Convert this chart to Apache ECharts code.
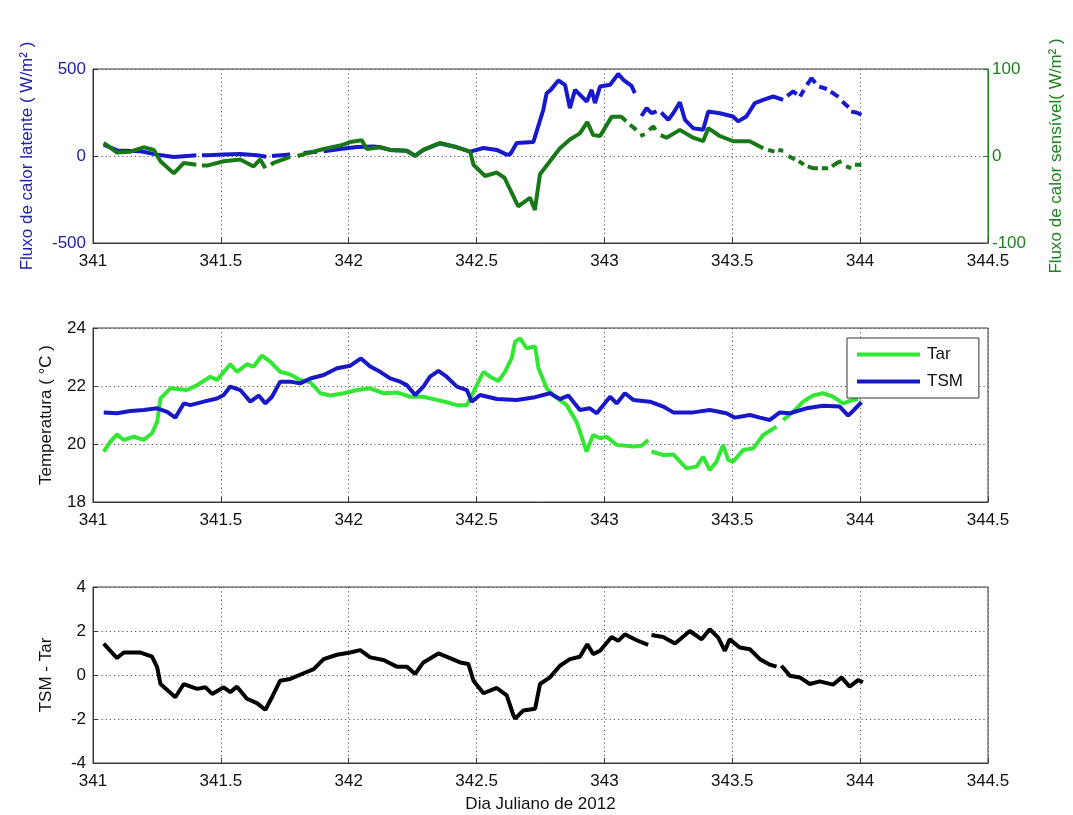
<!DOCTYPE html>
<html>
<head>
<meta charset="utf-8">
<script src="https://cdn.jsdelivr.net/npm/echarts@6/dist/echarts.min.js"></script>
<style>
html,body{margin:0;padding:0;background:#fff;}
#c{width:1073px;height:815px;}
</style>
</head>
<body>
<div id="c"></div>
<script>
// ---- Data ----
const latentDays = [341.042,341.094,341.186,341.251,341.316,341.381,341.404,341.415,341.426,341.446,341.511,341.576,341.641,341.678,341.69,341.700,341.771,341.79,341.824,341.876,341.885,341.902,341.967,342.032,342.097,342.123,342.162,342.227,342.260,342.292,342.357,342.423,342.475,342.527,342.579,342.618,342.631,342.657,342.722,342.761,342.774,342.79,342.820,342.846,342.865,342.885,342.931,342.950,342.963,342.983,343.022,343.054,343.074,343.106,343.119,343.13,343.145,343.165,343.184,343.204,343.212,343.222,343.250,343.269,343.295,343.315,343.347,343.386,343.406,343.451,343.503,343.523,343.555,343.588,343.621,343.660,343.699,343.707,343.715,343.738,343.752,343.758,343.765,343.780,343.785,343.792,343.810,343.825,343.832,343.840,343.870,343.878,343.885,343.915,343.922,343.930,343.955,343.960,343.965,343.985,344.005];
const latentVals = [65,32,27,8,-6,2,4,null,4,4,8,11,4,-4,null,0,8,null,17,25,null,27,40,52,55,50,35,30,2,35,72,50,25,46,35,8,8,75,80,266,361,380,434,409,275,380,313,380,304,399,409,472,438,403,361,null,230,275,246,256,null,250,208,246,308,208,160,151,256,246,227,199,227,304,323,342,323,null,345,371,355,null,342,380,null,409,447,420,null,399,385,null,370,340,null,313,280,null,255,250,237];

const sensDays = [341.042,341.094,341.146,341.198,341.238,341.264,341.316,341.355,341.404,341.415,341.426,341.446,341.511,341.576,341.628,341.654,341.674,341.685,341.696,341.706,341.771,341.79,341.800,341.836,341.902,341.967,342.006,342.051,342.071,342.123,342.162,342.227,342.260,342.292,342.357,342.423,342.475,342.488,342.533,342.579,342.609,342.663,342.709,342.728,342.748,342.787,342.826,342.865,342.904,342.933,342.956,342.983,343.028,343.067,343.085,343.092,343.100,343.125,343.132,343.140,343.158,343.165,343.175,343.191,343.200,343.210,343.220,343.243,343.295,343.347,343.386,343.406,343.451,343.503,343.568,343.621,343.630,343.640,343.665,343.672,343.680,343.699,343.710,343.720,343.745,343.752,343.760,343.780,343.787,343.795,343.815,343.835,343.842,343.850,343.875,343.882,343.890,343.910,343.927,343.935,343.945,343.965,343.972,343.980,344.005];
const sensVals = [15,4,5,10,7,-6,-20,-8,-10,null,-11,-11,-6,-4,-12,-4,-14,null,-10,-8,-1,null,0,3,8,12,16,18,8,10,7,6,0,7,15,10,5,-10,-23,-19,-25,-58,-48,-62,-21,-6,9,19,26,39,24,23,45,45,40,null,36,30,null,23,25,null,30,34,30,null,24,21,30,21,17,32,23,17,17,9,null,7,5,null,7,6,null,0,-4,null,-6,-10,null,-12,-14,-14,null,-14,-14,null,-12,-8,-6,null,-12,-14,null,-10,-10];

const tarDays = [341.042,341.068,341.094,341.120,341.160,341.198,341.231,341.251,341.264,341.303,341.368,341.407,341.459,341.485,341.537,341.563,341.602,341.628,341.661,341.693,341.732,341.771,341.810,341.850,341.889,341.928,341.980,342.032,342.084,342.136,342.188,342.240,342.292,342.344,342.383,342.423,342.462,342.488,342.527,342.553,342.585,342.611,342.637,342.651,342.670,342.696,342.729,342.742,342.774,342.807,342.852,342.891,342.930,342.956,342.983,343.009,343.048,343.113,343.145,343.171,343.178,343.184,343.230,343.269,343.321,343.360,343.386,343.412,343.438,343.464,343.484,343.503,343.542,343.582,343.621,343.673,343.68,343.699,343.738,343.777,343.816,343.855,343.894,343.933,343.972,343.992];
const tarVals = [19.74,20.08,20.33,20.14,20.25,20.14,20.37,20.77,21.57,21.92,21.86,22.03,22.32,22.21,22.75,22.49,22.75,22.67,23.05,22.84,22.49,22.40,22.21,22.13,21.75,21.67,21.75,21.86,21.92,21.75,21.78,21.63,21.63,21.52,21.44,21.34,21.34,21.80,22.49,22.32,22.17,22.49,22.95,23.53,23.64,23.30,23.36,22.61,21.92,21.63,21.34,20.77,19.74,20.31,20.20,20.25,19.97,19.91,19.94,20.14,null,19.74,19.62,19.64,19.16,19.22,19.56,19.10,19.39,19.97,19.45,19.39,19.79,19.85,20.31,20.60,null,20.83,21.11,21.46,21.67,21.75,21.63,21.40,21.52,21.55];

const tsmDays = [341.042,341.094,341.146,341.198,341.251,341.290,341.322,341.355,341.381,341.433,341.485,341.511,341.537,341.576,341.615,341.648,341.674,341.700,341.732,341.771,341.810,341.850,341.902,341.954,342.006,342.048,342.084,342.123,342.162,342.201,342.227,342.260,342.292,342.318,342.351,342.383,342.423,342.462,342.481,342.514,342.579,342.657,342.722,342.787,342.826,342.859,342.904,342.943,342.970,343.022,343.048,343.080,343.113,343.178,343.230,343.269,343.347,343.412,343.477,343.510,343.569,343.608,343.647,343.686,343.725,343.790,343.855,343.920,343.953,343.972,344.005];
const tsmVals = [21.09,21.06,21.14,21.17,21.23,21.11,20.91,21.40,21.34,21.46,21.57,21.69,21.98,21.86,21.46,21.67,21.40,21.63,22.15,22.15,22.09,22.26,22.38,22.61,22.70,22.95,22.67,22.49,22.26,22.15,22.03,21.69,21.98,22.32,22.52,22.32,21.98,21.86,21.46,21.69,21.55,21.52,21.60,21.75,21.55,21.67,21.17,21.23,21.06,21.63,21.40,21.75,21.52,21.46,21.29,21.09,21.09,21.17,21.06,20.91,21.00,20.91,20.83,21.09,21.06,21.23,21.32,21.29,20.98,21.14,21.44];

const diffDays = [341.042,341.068,341.094,341.120,341.186,341.231,341.251,341.264,341.322,341.355,341.407,341.440,341.466,341.511,341.537,341.563,341.602,341.641,341.674,341.700,341.732,341.771,341.824,341.863,341.902,341.954,342.006,342.045,342.084,342.136,342.188,342.227,342.260,342.292,342.351,342.396,342.436,342.468,342.488,342.527,342.579,342.618,342.644,342.651,342.683,342.729,342.748,342.787,342.826,342.865,342.904,342.933,342.956,342.983,343.028,343.054,343.080,343.126,343.171,343.178,343.184,343.230,343.276,343.334,343.380,343.412,343.445,343.471,343.490,343.529,343.569,343.608,343.647,343.673,343.68,343.692,343.725,343.764,343.803,343.842,343.894,343.927,343.959,343.992,344.011];
const diffVals = [1.43,1.10,0.77,1.02,1.02,0.83,0.35,-0.41,-1.01,-0.41,-0.63,-0.56,-0.86,-0.56,-0.78,-0.53,-1.08,-1.28,-1.58,-1.01,-0.26,-0.18,0.08,0.27,0.72,0.92,1.02,1.13,0.80,0.68,0.38,0.38,0.05,0.57,0.98,0.77,0.57,0.50,-0.26,-0.83,-0.59,-0.93,-1.83,-1.98,-1.61,-1.53,-0.41,-0.11,0.42,0.72,0.83,1.40,0.95,1.10,1.73,1.55,1.85,1.58,1.37,null,1.82,1.73,1.43,2.00,1.62,2.08,1.70,1.10,1.62,1.25,1.17,0.72,0.47,0.38,null,0.42,-0.03,-0.11,-0.41,-0.29,-0.44,-0.11,-0.53,-0.23,-0.33];

const xTicks = {min: 341, max: 344.5, interval: 0.5};
const latentTicks = {min: -500, max: 500, interval: 500};
const sensTicks = {min: -100, max: 100, interval: 100};
const tempTicks = {min: 18, max: 24, interval: 2};
const diffTicks = {min: -4, max: 4, interval: 2};

// ---- Build ----
function pairs(xs, ys){ return xs.map((x,i)=>[x, ys[i]===null ? '-' : ys[i]]); }

const FONT = 'Liberation Sans, Arial, sans-serif';
const LEFT = 93, WIDTH = 895;
const grids = [
  {left: LEFT, top: 69, width: WIDTH, height: 174},
  {left: LEFT, top: 328, width: WIDTH, height: 174},
  {left: LEFT, top: 587, width: WIDTH, height: 176}
].map(g => Object.assign({show: true, borderColor: '#3a3a3a', borderWidth: 1, backgroundColor: 'transparent', containLabel: false, outerBoundsMode: 'none'}, g));

const dotted = {show: true, lineStyle: {color: '#555', type: [1.2, 3], width: 1}};

function xAx(idx, extra){
  return Object.assign({
    type: 'value', gridIndex: idx, min: xTicks.min, max: xTicks.max, interval: xTicks.interval,
    axisLine: {show: true, onZero: false, lineStyle: {color: '#3a3a3a'}},
    axisTick: {show: true, inside: true, length: 5, lineStyle: {color: '#3a3a3a'}},
    axisLabel: {show: true, fontSize: 17, color: '#111', fontFamily: FONT, margin: 10, showMinLabel: true, showMaxLabel: true},
    splitLine: dotted
  }, extra || {});
}
function yAx(idx, t, extra){
  return Object.assign({
    type: 'value', gridIndex: idx, min: t.min, max: t.max, interval: t.interval,
    axisLine: {show: true, lineStyle: {color: '#3a3a3a'}},
    axisTick: {show: true, inside: true, length: 5, lineStyle: {color: '#3a3a3a'}},
    axisLabel: {fontSize: 17, color: '#111', fontFamily: FONT, margin: 7, showMinLabel: true, showMaxLabel: true},
    splitLine: dotted,
    nameLocation: 'middle',
    nameTextStyle: {fontSize: 17, color: '#111', fontFamily: FONT}
  }, extra || {});
}

const BLUE_AX = '#2020a8', GREEN_AX = '#1f801f';

const option = {
  animation: false,
  backgroundColor: '#fff',
  textStyle: {fontFamily: FONT},
  grid: grids,
  legend: {
    left: 847, top: 338, orient: 'vertical',
    data: [{name: 'Tar', icon: 'rect'}, {name: 'TSM', icon: 'rect'}],
    itemWidth: 63, itemHeight: 4, itemGap: 10,
    padding: [8, 16, 8, 10],
    borderColor: '#333', borderWidth: 1, backgroundColor: '#fff',
    textStyle: {fontSize: 17, color: '#111', fontFamily: FONT, padding: [0, 0, 0, 2]}
  },
  xAxis: [
    xAx(0), xAx(1),
    xAx(2, {name: 'Dia Juliano de 2012', nameLocation: 'middle', nameGap: 33,
            nameTextStyle: {fontSize: 17, color: '#111', fontFamily: FONT}})
  ],
  yAxis: [
    yAx(0, latentTicks, {position: 'left', name: 'Fluxo de calor latente ( W/m² )', nameGap: 57,
      axisLine: {show: true, lineStyle: {color: BLUE_AX}},
      axisTick: {show: true, inside: true, length: 5, lineStyle: {color: BLUE_AX}},
      axisLabel: {fontSize: 17, color: BLUE_AX, fontFamily: FONT, margin: 7, showMinLabel: true, showMaxLabel: true},
      nameTextStyle: {fontSize: 17, color: BLUE_AX, fontFamily: FONT}}),
    yAx(0, sensTicks, {position: 'right', name: 'Fluxo de calor sensível( W/m² )', nameGap: 60,
      splitLine: {show: false},
      axisLine: {show: true, lineStyle: {color: GREEN_AX}},
      axisTick: {show: true, inside: true, length: 5, lineStyle: {color: GREEN_AX}},
      axisLabel: {fontSize: 17, color: GREEN_AX, fontFamily: FONT, margin: 4, showMinLabel: true, showMaxLabel: true},
      nameTextStyle: {fontSize: 17, color: GREEN_AX, fontFamily: FONT}}),
    yAx(1, tempTicks, {name: 'Temperatura ( °C )', nameGap: 38}),
    yAx(2, diffTicks, {name: 'TSM - Tar', nameGap: 38})
  ],
  series: [
    {name: 'latente', type: 'line', xAxisIndex: 0, yAxisIndex: 0, data: pairs(latentDays, latentVals),
     symbol: 'none', connectNulls: false, lineStyle: {width: 4, color: '#1818cc'}, itemStyle: {color: '#1818cc'}},
    {name: 'sensivel', type: 'line', xAxisIndex: 0, yAxisIndex: 1, data: pairs(sensDays, sensVals),
     symbol: 'none', connectNulls: false, lineStyle: {width: 4, color: '#187818'}, itemStyle: {color: '#187818'}},
    {name: 'Tar', type: 'line', xAxisIndex: 1, yAxisIndex: 2, data: pairs(tarDays, tarVals),
     symbol: 'none', connectNulls: false, lineStyle: {width: 4, color: '#33e633'}, itemStyle: {color: '#33e633'}},
    {name: 'TSM', type: 'line', xAxisIndex: 1, yAxisIndex: 2, data: pairs(tsmDays, tsmVals),
     symbol: 'none', connectNulls: false, lineStyle: {width: 4, color: '#1818c8'}, itemStyle: {color: '#1818c8'}},
    {name: 'diff', type: 'line', xAxisIndex: 2, yAxisIndex: 3, data: pairs(diffDays, diffVals),
     symbol: 'none', connectNulls: false, lineStyle: {width: 4, color: '#000'}, itemStyle: {color: '#000'}}
  ]
};

const chart = echarts.init(document.getElementById('c'), null, {renderer: 'canvas'});
chart.setOption(option);
</script>
</body>
</html>
